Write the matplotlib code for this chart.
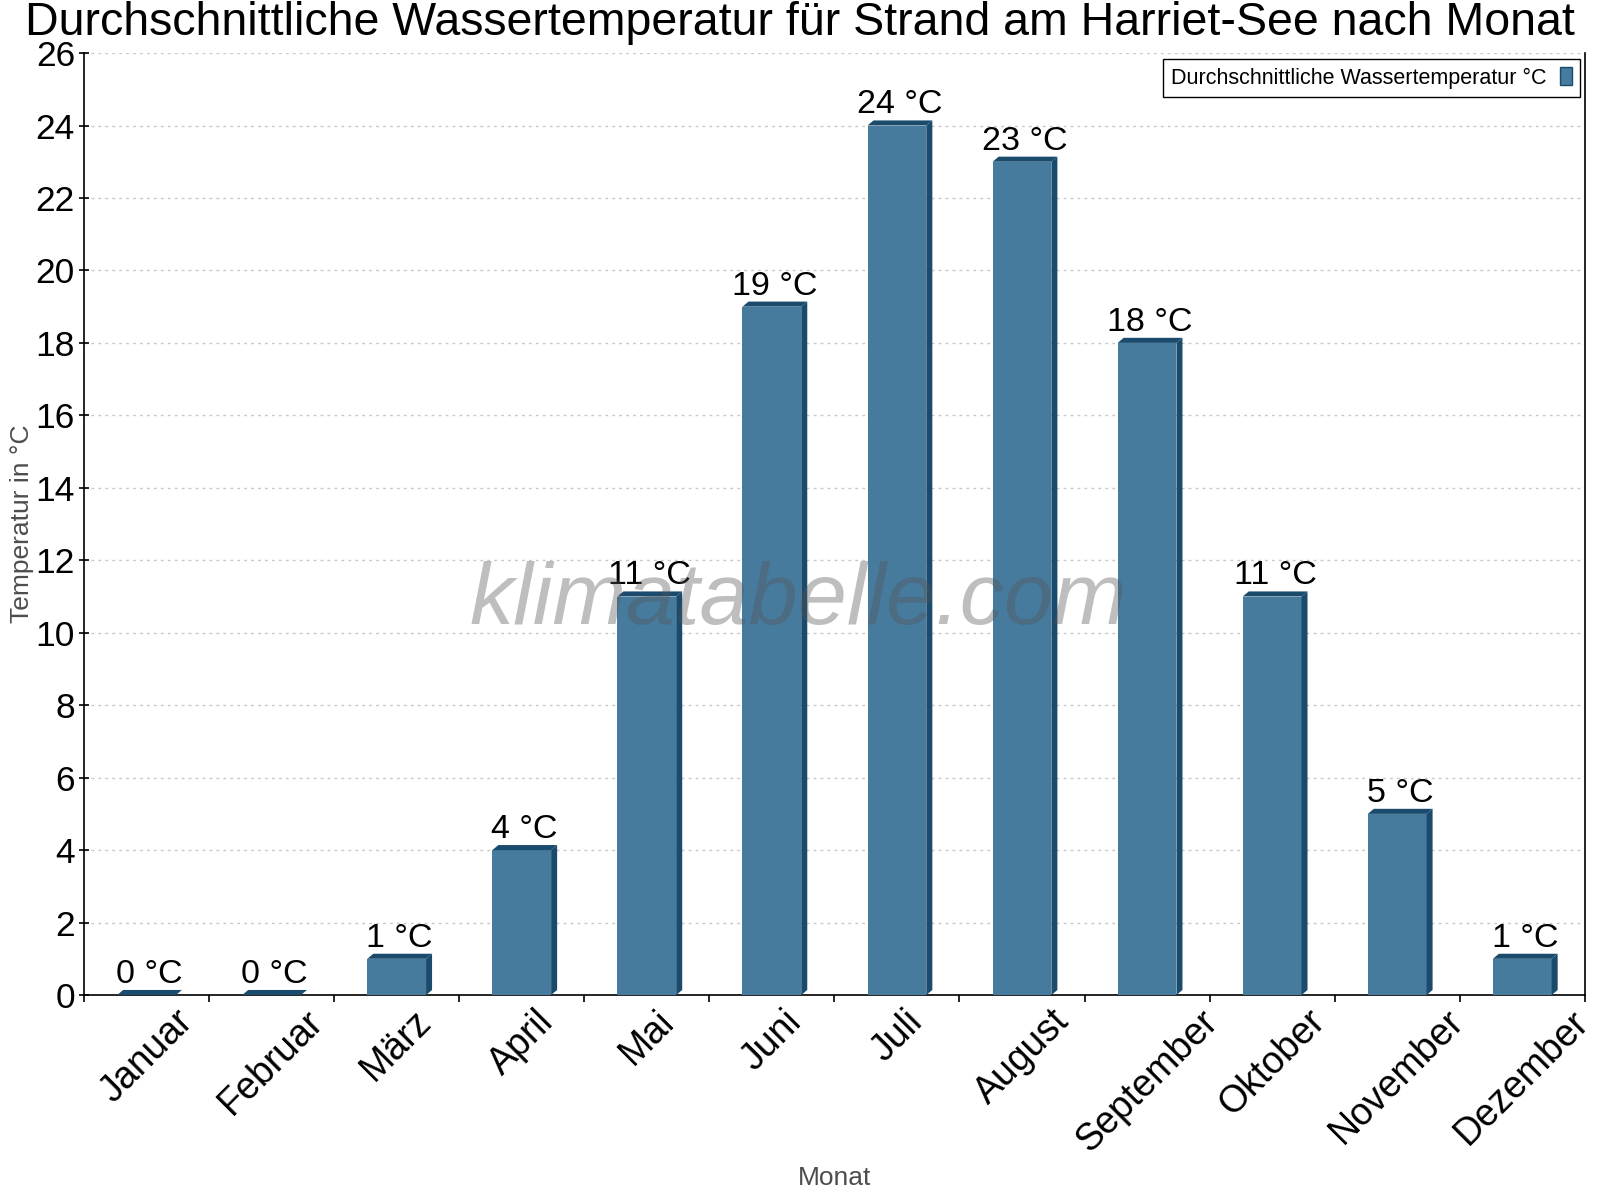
import matplotlib
matplotlib.use("Agg")
import matplotlib.pyplot as plt
from matplotlib.patches import Polygon

months = ["Januar", "Februar", "März", "April", "Mai", "Juni", "Juli",
          "August", "September", "Oktober", "November", "Dezember"]
water_temp = [0, 0, 1, 4, 11, 19, 24, 23, 18, 11, 5, 1]
y_ticks = list(range(0, 27, 2))

title = "Durchschnittliche Wassertemperatur für Strand am Harriet-See nach Monat"
series_name = "Durchschnittliche Wassertemperatur °C"

front_color = "#467b9e"
dark_color = "#1a4b6c"

plt.rcParams['font.family'] = ['Liberation Sans', 'DejaVu Sans']

fig = plt.figure(figsize=(16, 12), dpi=100)
ax = fig.add_axes([0.0525, 0.1708, 0.938, 0.785])

# bar geometry (in category units), plus the fake 3d depth
bar_w = 0.47
dx = 0.048
dy = 0.14

for i, v in enumerate(water_temp):
    x0 = i + 0.5 - bar_w / 2
    x1 = i + 0.5 + bar_w / 2
    ax.bar(i + 0.5, v, width=bar_w, color=front_color, zorder=3, linewidth=0)
    # top face
    ax.add_patch(Polygon([(x0, v), (x1, v), (x1 + dx, v + dy), (x0 + dx, v + dy)],
                         closed=True, color=dark_color, zorder=3, linewidth=0))
    # side face
    ax.add_patch(Polygon([(x1, 0), (x1 + dx, dy), (x1 + dx, v + dy), (x1, v)],
                         closed=True, color=dark_color, zorder=3, linewidth=0))
    ax.annotate(f"{v} °C", (i + 0.5 + dx / 2, v + dy), xytext=(0, 0),
                textcoords="offset points", ha="center", va="bottom",
                fontsize=24.5, zorder=5)

ax.set_xlim(0, 12)
ax.set_ylim(0, 26)

# ticks at category edges, labels at centers
ax.set_xticks(range(13))
ax.set_xticklabels([])
ax.set_xticks([i + 0.5 for i in range(12)], minor=True)
ax.set_xticklabels(months, minor=True, rotation=45, ha="center", va="top",
                   fontsize=27)
ax.tick_params(axis="x", which="major", direction="out", length=5, width=1.2)
ax.tick_params(axis="x", which="minor", length=0, pad=6)

ax.set_yticks(y_ticks)
ax.set_yticklabels([str(t) for t in y_ticks], fontsize=25.5)
ax.tick_params(axis="y", direction="inout", length=7, width=1.2, pad=3)

ax.grid(axis="y", color="#c8c8c8", linestyle=(0, (2, 3)), linewidth=1, zorder=0)
ax.set_axisbelow(True)

for side in ["left", "bottom", "right"]:
    ax.spines[side].set_linewidth(1.2)
    ax.spines[side].set_color("black")
ax.spines["top"].set_visible(False)

ax.set_ylabel("Temperatur in °C", fontsize=19, color="#4d4d4d")
ax.yaxis.set_label_coords(-0.033, 0.5)
ax.set_xlabel("Monat", fontsize=19, color="#4d4d4d")
ax.xaxis.set_label_coords(0.5, -0.182)

fig.text(0.5, 1 - 23 / 1200, title, ha="center", va="center", fontsize=33.5)

# legend
handle = plt.Rectangle((0, 0), 1, 1, facecolor=front_color, edgecolor=dark_color)
leg = ax.legend([handle], [series_name], loc="upper right", markerfirst=False,
                fontsize=15.5, fancybox=False, framealpha=1, edgecolor="black",
                handlelength=0.55, handleheight=0.9, borderpad=0.4,
                handletextpad=0.6, borderaxespad=0,
                bbox_to_anchor=(0.997, 0.994))
leg.get_frame().set_linewidth(1)

# watermark
ax.text(0.476, 0.418, "klimatabelle.com", transform=ax.transAxes, ha="center",
        va="center", fontsize=63.5, style="italic", color="#555555", alpha=0.38,
        zorder=6)

fig.savefig("out.png", dpi=100)
